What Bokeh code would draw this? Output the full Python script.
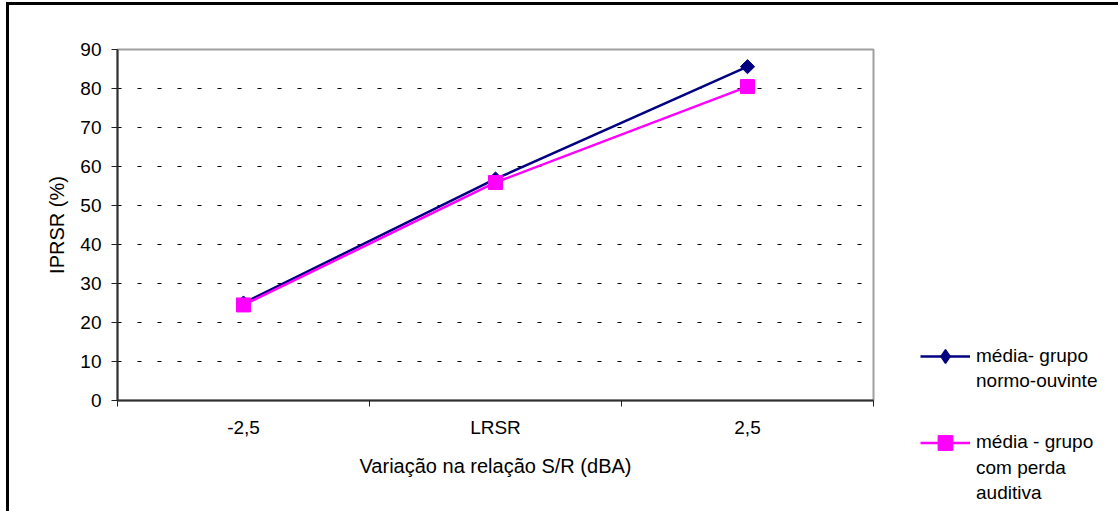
from bokeh.plotting import figure
from bokeh.layouts import row, column
from bokeh.models import FixedTicker, Legend, LegendItem
from bokeh.embed import file_html
from bokeh.resources import INLINE

categories = ["-2,5", "LRSR", "2,5"]
normo = [25.0, 56.8, 85.6]
perda = [24.5, 55.9, 80.5]
yticks = [0, 10, 20, 30, 40, 50, 60, 70, 80, 90]
label_normo = ["média- grupo", "normo-ouvinte"]
label_perda = ["média - grupo", "com perda", "auditiva"]
xtitle = "Variação na relação S/R (dBA)"
ytitle = "IPRSR (%)"

NAVY = "#000080"
PINK = "#ff00ff"
FONT = "Liberation Sans"

xs = [i + 0.5 for i in range(len(categories))]

p1 = figure(width=866, height=506, output_backend="svg", toolbar_location=None,
            x_range=(0, len(categories)), y_range=(0, 90),
            min_border_left=108, min_border_top=44, min_border_right=2,
            min_border_bottom=111)
p1.background_fill_color = "white"
p1.border_fill_color = "white"
p1.outline_line_color = "#a0a0a0"
p1.outline_line_width = 2

# x axis: labels at category centres, tick marks at category boundaries
p1.xaxis.ticker = FixedTicker(ticks=xs, minor_ticks=list(range(len(categories) + 1)))
p1.xaxis.major_label_overrides = {x: c for x, c in zip(xs, categories)}
p1.xaxis.major_tick_out = 0
p1.xaxis.major_tick_in = 0
p1.xaxis.minor_tick_out = 6
p1.xaxis.minor_tick_in = 0
p1.xaxis.minor_tick_line_color = "#202020"
p1.xaxis.minor_tick_line_width = 1
p1.xaxis.major_label_standoff = 10
p1.xaxis.axis_label = xtitle
p1.xaxis.axis_label_standoff = 14

# y axis
p1.yaxis.ticker = FixedTicker(ticks=yticks, minor_ticks=[])
p1.yaxis.major_tick_out = 6
p1.yaxis.major_tick_in = 0
p1.yaxis.major_tick_line_color = "#202020"
p1.yaxis.major_label_standoff = 10
p1.yaxis.axis_label = ytitle
p1.yaxis.axis_label_standoff = 9

for ax in (p1.xaxis, p1.yaxis):
    ax.axis_line_color = "#303030"
    ax.axis_line_width = 2
    ax.major_label_text_font = FONT
    ax.major_label_text_font_size = "19px"
    ax.major_label_text_color = "black"
    ax.axis_label_text_font = FONT
    ax.axis_label_text_font_size = "20px"
    ax.axis_label_text_font_style = "normal"
    ax.axis_label_text_color = "black"

p1.xgrid.visible = False
p1.ygrid.ticker = FixedTicker(ticks=yticks[1:-1])
p1.ygrid.grid_line_color = "black"
p1.ygrid.grid_line_width = 1
p1.ygrid.grid_line_dash = "4 16"

p1.line(xs, normo, line_color=NAVY, line_width=2.5)
p1.scatter(xs, normo, marker="square", angle=0.785398, size=10,
           fill_color=NAVY, line_color=NAVY)
p1.line(xs, perda, line_color=PINK, line_width=2.5)
p1.scatter(xs, perda, marker="square", size=14, fill_color=PINK, line_color=PINK)

# legend panel: separate figure, its frame fills the canvas so nothing is clipped.
# Its ranges keep the (real) data used for the key glyphs out of view.
p2 = figure(width=243, height=506, output_backend="svg", toolbar_location=None,
            min_border=0, x_range=(-2, -1), y_range=(-2, -1),
            x_axis_location=None, y_axis_location=None)
p2.grid.visible = False
p2.outline_line_color = None
p2.background_fill_color = "white"
p2.border_fill_color = "white"

k1 = p2.line(xs, normo, line_color=NAVY, line_width=2.5)
k1m = p2.scatter(xs, normo, marker="diamond", size=10,
                 fill_color=NAVY, line_color=NAVY, line_width=1.5)
k2 = p2.line(xs, perda, line_color=PINK, line_width=2.5)
k2m = p2.scatter(xs, perda, marker="square", size=14, fill_color=PINK, line_color=PINK)
blank = p2.line(xs, normo, line_alpha=0)


def make_legend(lines, rends, loc, glyph_h):
    items = [LegendItem(label=t, renderers=rends) for t in lines]
    lg = Legend(items=items, location=loc, orientation="vertical")
    lg.label_text_font = FONT
    lg.label_text_font_size = "19px"
    lg.label_text_color = "black"
    lg.glyph_width = 50
    lg.glyph_height = glyph_h
    lg.label_height = 25
    lg.label_standoff = 6
    lg.padding = 0
    lg.margin = 0
    lg.spacing = 0
    lg.border_line_color = None
    lg.background_fill_alpha = 0
    return lg


# first line of each entry carries the key; the following lines are text only
p2.add_layout(make_legend(label_normo[:1], [k1, k1m], (45, 138), 34))
p2.add_layout(make_legend(label_normo[1:], [blank], (45, 117.5), 25))
p2.add_layout(make_legend(label_perda[:1], [k2, k2m], (45, 50.5), 37))
p2.add_layout(make_legend(label_perda[1:], [blank], (45, 6), 25))

layout = row(p1, column(p2))
layout.styles = {"border-left": "3px solid black", "border-top": "3px solid black",
                 "margin-left": "6px", "margin-top": "2px"}

open("out.html", "w").write(file_html(layout, INLINE))
